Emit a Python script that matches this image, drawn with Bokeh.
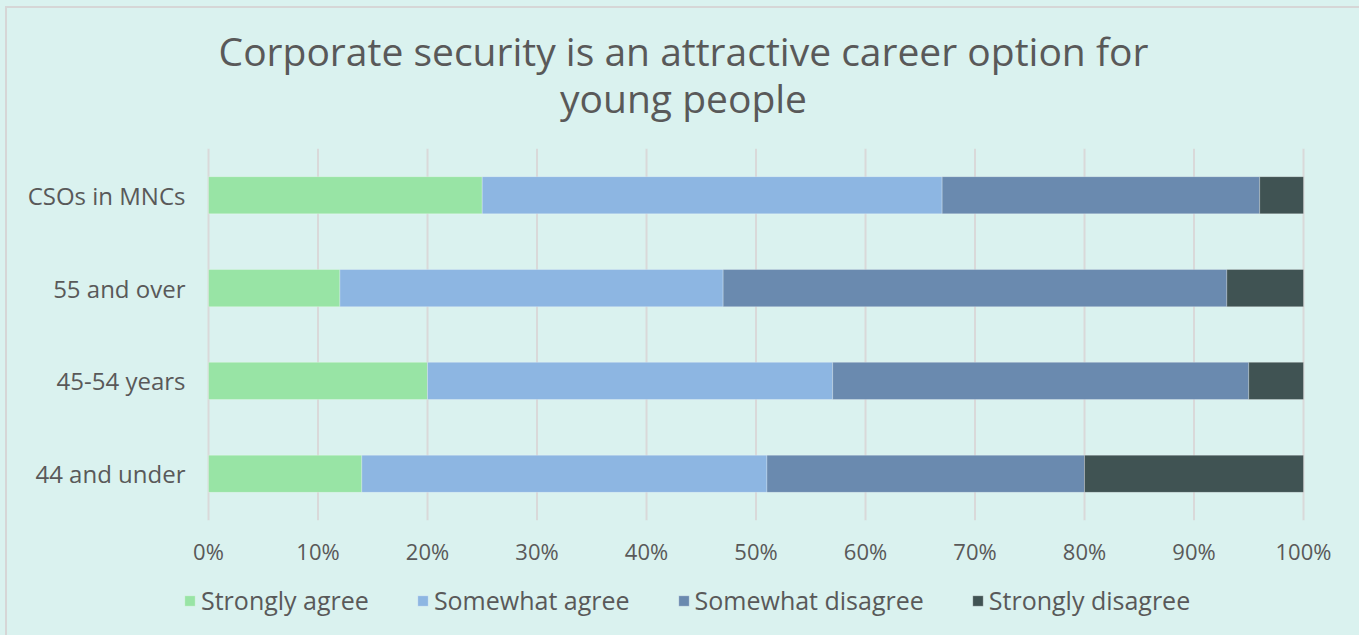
from bokeh.plotting import figure
from bokeh.models import ColumnDataSource, Range1d, FixedTicker, Label, Legend, LinearAxis
from bokeh.layouts import column
from bokeh.embed import file_html
from bokeh.resources import INLINE

# ---- data ----
categories = ["44 and under", "45-54 years", "55 and over", "CSOs in MNCs"]
series = ["Strongly agree", "Somewhat agree", "Somewhat disagree", "Strongly disagree"]
strongly_agree = [14, 20, 12, 25]
somewhat_agree = [37, 37, 35, 42]
somewhat_disagree = [29, 38, 46, 29]
strongly_disagree = [20, 5, 7, 4]
colors = ["#98e4a5", "#8db6e2", "#6a8aaf", "#405353"]
tick_values = [0, 10, 20, 30, 40, 50, 60, 70, 80, 90, 100]
tick_labels = ["0%", "10%", "20%", "30%", "40%", "50%", "60%", "70%", "80%", "90%", "100%"]
title_lines = ["Corporate security is an attractive career option for", "young people"]

BG = "#daf2ef"
TXT = "#595959"
FONT = "Open Sans"

positions = list(range(len(categories)))
src = ColumnDataSource(dict(pos=positions, cat=categories,
                            **{series[0]: strongly_agree, series[1]: somewhat_agree,
                               series[2]: somewhat_disagree, series[3]: strongly_disagree}))

W, H = 1354, 629
# frame covers the whole canvas; ranges chosen so 0%..100% sits at x 201..1296 px
p = figure(width=W, height=H, x_range=Range1d(-18.356, 105.297), y_range=Range1d(-1.763, 5.011),
           output_backend="svg", toolbar_location=None, x_axis_type=None, y_axis_type=None,
           min_border=0, min_border_left=0, min_border_right=0, min_border_top=0, min_border_bottom=0)
p.background_fill_color = BG
p.border_fill_color = BG
p.outline_line_color = None
p.xgrid.visible = False
p.ygrid.visible = False

# vertical gridlines at tick values over the category band
p.segment(x0=tick_values, x1=tick_values, y0=positions[0] - 0.5, y1=positions[-1] + 0.5,
          line_color="#d9d9d9", line_width=2)

renderers = p.hbar_stack(series, y="pos", height=0.4, color=colors, source=src,
                         line_color="#ffffff", line_alpha=0.25, line_width=1)

xaxis = LinearAxis(fixed_location=positions[0] - 0.5)
xaxis.ticker = FixedTicker(ticks=tick_values)
xaxis.major_label_overrides = {v: l for v, l in zip(tick_values, tick_labels)}
yaxis = LinearAxis(fixed_location=0)
yaxis.ticker = FixedTicker(ticks=positions)
yaxis.major_label_overrides = {i: c for i, c in zip(positions, categories)}
for ax in (xaxis, yaxis):
    ax.axis_line_color = None
    ax.major_tick_line_color = None
    ax.minor_tick_line_color = None
    ax.major_label_text_font = FONT
    ax.major_label_text_color = TXT
xaxis.major_label_text_font_size = "22px"
yaxis.major_label_text_font_size = "24px"
xaxis.major_label_standoff = 10
yaxis.major_label_standoff = 17
p.add_layout(xaxis, "below")
p.add_layout(yaxis, "left")

for t, yy in zip(title_lines, [587, 540]):
    p.add_layout(Label(x=676, y=yy, x_units="screen", y_units="screen", text=t,
                       text_font=FONT, text_font_size="39px", text_color=TXT,
                       text_align="center", text_baseline="middle"))

legend = Legend(items=[(s, [r]) for s, r in zip(series, renderers)],
                orientation="horizontal", location=(176, 20),
                background_fill_alpha=0, border_line_alpha=0,
                glyph_width=13, glyph_height=13, label_standoff=5, spacing=47,
                padding=0, margin=0, label_height=25,
                label_text_font=FONT, label_text_font_size="25px", label_text_color=TXT)
p.add_layout(legend, "center")

p.styles = {"border-left": "2px solid #d6d6d6", "border-top": "2px solid #d6d6d6"}
root = column(p, styles={"background-color": BG, "padding": "6px 0 0 5px"})

open("out.html", "w").write(file_html(root, INLINE))
